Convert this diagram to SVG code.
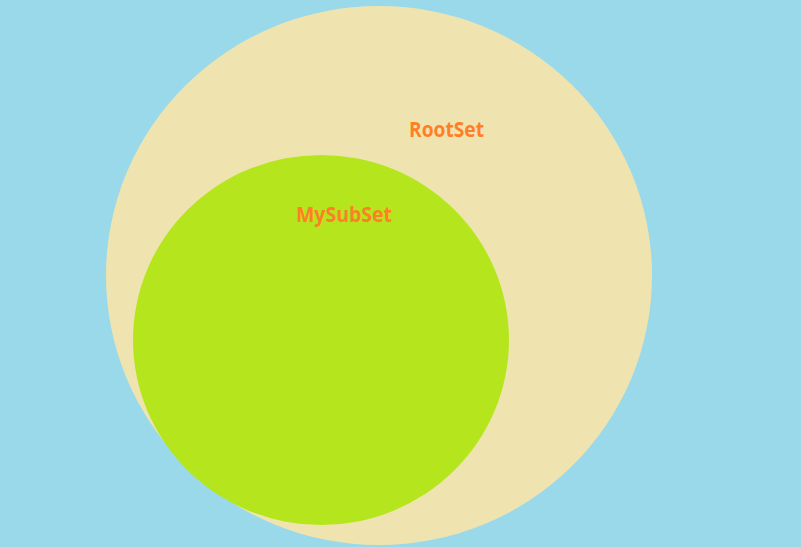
<svg xmlns="http://www.w3.org/2000/svg" width="801" height="547" viewBox="0 0 801 547">
<style>
.lbl{font-family:"Open Sans","Liberation Sans",sans-serif;font-weight:bold;font-size:20.5px;fill:#ff7f27}
</style>
<rect width="801" height="547" fill="#99d9ea"/>
<g id="RootSet">
<ellipse cx="379" cy="275.5" rx="273" ry="269.5" fill="#efe4b0"/>
<text class="lbl" x="409" y="137" textLength="75" lengthAdjust="spacingAndGlyphs">RootSet</text>
</g>
<g id="MySubSet">
<ellipse cx="321" cy="340" rx="188" ry="185" fill="#b5e61d"/>
<text class="lbl" x="296" y="222" textLength="96" lengthAdjust="spacingAndGlyphs">MySubSet</text>
</g>
<g id="connectors"/>
</svg>
